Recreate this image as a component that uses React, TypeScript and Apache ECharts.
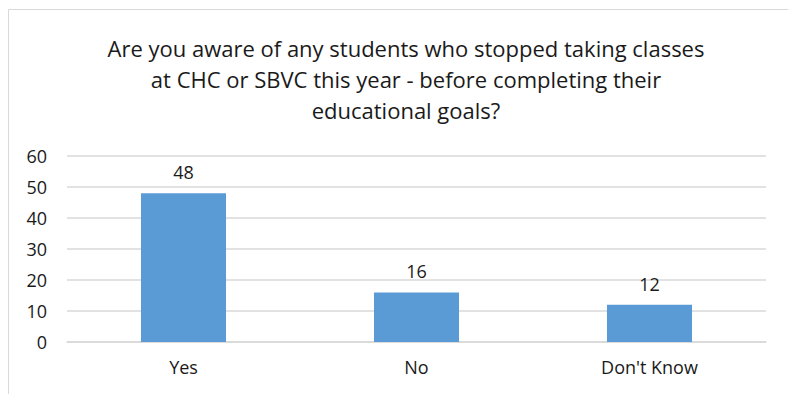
import React, { useEffect, useRef } from "react";
import * as echarts from "echarts";

const titleLines = [
  "Are you aware of any students who stopped taking classes",
  "at CHC or SBVC this year - before completing their",
  "educational goals?",
];
const categories = ["Yes", "No", "Don't Know"];
const values = [48, 16, 12];
const yTicks = { min: 0, max: 60, interval: 10 };

const FONT = "'Open Sans', sans-serif";

export default function App() {
  const ref = useRef<HTMLDivElement>(null);
  useEffect(() => {
    if (!ref.current) return;
    const chart = echarts.init(ref.current, undefined, { renderer: "svg" });
    chart.setOption({
      animation: false,
      backgroundColor: "#ffffff",
      title: {
        text: titleLines.join("\n"),
        left: 401,
        top: 27,
        textAlign: "center",
        textStyle: {
          fontFamily: FONT,
          fontSize: 22,
          fontWeight: "normal",
          color: "#1a1a1a",
          lineHeight: 31,
        },
      },
      graphic: [
        {
          type: "rect",
          shape: { x: 8.5, y: 9.5, width: 900, height: 500 },
          style: { fill: "none", stroke: "#d9d9d9", lineWidth: 1 },
          silent: true,
        },
      ],
      grid: { left: 67, right: 22, top: 156, bottom: 52, containLabel: false },
      xAxis: {
        type: "category",
        data: categories,
        axisLine: { show: true, lineStyle: { color: "#d9d9d9", width: 1.5 } },
        axisTick: { show: false },
        axisLabel: {
          fontFamily: FONT,
          fontSize: 18,
          color: "#1a1a1a",
          margin: 16,
        },
      },
      yAxis: {
        type: "value",
        min: yTicks.min,
        max: yTicks.max,
        interval: yTicks.interval,
        axisLine: { show: false },
        axisTick: { show: false },
        splitLine: { lineStyle: { color: "#d9d9d9", width: 1.5 } },
        axisLabel: {
          fontFamily: FONT,
          fontSize: 18,
          color: "#1a1a1a",
          margin: 20,
        },
      },
      series: [
        {
          type: "bar",
          data: values,
          barWidth: "36.5%",
          itemStyle: { color: "#5b9bd5" },
          label: {
            show: true,
            position: "top",
            distance: 12,
            fontFamily: FONT,
            fontSize: 18,
            color: "#1a1a1a",
          },
        },
      ],
    });
    return () => chart.dispose();
  }, []);
  return (
    <div
      ref={ref}
      style={{ position: "fixed", left: 0, top: 0, width: 788, height: 394 }}
    />
  );
}
